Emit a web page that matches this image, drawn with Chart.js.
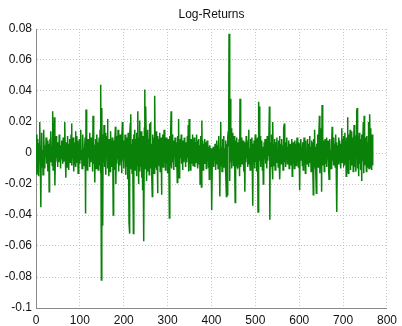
<!DOCTYPE html>
<html>
<head>
<meta charset="utf-8">
<script src="https://cdn.jsdelivr.net/npm/chart.js@4.4.1/dist/chart.umd.min.js"></script>
<style>
  html, body { margin: 0; padding: 0; background: #fff; }
  #wrap { width: 402px; height: 326px; }
</style>
</head>
<body>
<div id="wrap"><canvas id="chart" width="402" height="326"></canvas></div>
<script>
// daily log-returns (one value per trading day)
const logReturns = [
  0.012, -0.014, 0.009, 0.003, -0.008, -0.015, 0.006, 0.011, 0.020, -0.006, -0.035, 0.004, 0.013, -0.009, 0.002, -0.014, 0.008, 0.015, -0.003, -0.010,
  0.005, -0.002, 0.010, -0.007, 0.003, 0.008, -0.012, 0.001, 0.006, -0.025, -0.004, 0.009, -0.006, 0.014, -0.001, 0.004, -0.008, 0.027, -0.011, 0.007,
  0.002, 0.023, -0.021, -0.005, 0.006, 0.011, -0.003, 0.004, -0.009, 0.007, 0.001, -0.006, 0.012, -0.002, 0.005, -0.010, 0.003, 0.008, -0.004, 0.006,
  -0.007, 0.010, 0.002, -0.005, 0.013, 0.020, -0.004, -0.016, 0.007, 0.003, -0.009, 0.011, -0.002, 0.006, -0.011, 0.004, 0.009, -0.006, 0.001, 0.012,
  0.019, -0.008, 0.005, -0.003, 0.010, -0.012, 0.002, 0.007, -0.005, 0.014, -0.009, 0.003, 0.011, -0.006, 0.008, -0.013, 0.004, -0.001, 0.009, -0.007,
  0.006, 0.015, -0.004, 0.002, -0.010, 0.008, 0.012, -0.006, 0.003, -0.008, 0.005, 0.010, -0.039, 0.028, -0.005, 0.007, -0.011, 0.004, 0.009, -0.003,
  0.006, -0.009, 0.013, 0.001, -0.006, 0.010, -0.004, 0.008, -0.012, 0.024, 0.011, -0.007, 0.003, -0.019, 0.005, 0.009, -0.010, 0.002, 0.012, -0.005,
  0.007, -0.011, 0.004, 0.010, -0.008, 0.015, -0.013, 0.044, -0.082, 0.029, -0.020, -0.047, 0.012, -0.006, 0.018, -0.009, 0.005, 0.013, -0.014, 0.008,
  -0.003, 0.011, 0.022, -0.010, 0.006, -0.015, 0.009, 0.002, -0.012, 0.014, -0.005, 0.007, -0.009, 0.010, -0.002, -0.040, 0.008, 0.004, -0.011, 0.006,
  0.017, -0.020, 0.005, -0.007, 0.011, -0.004, 0.015, -0.012, 0.003, 0.009, -0.008, 0.012, -0.006, 0.004, -0.013, 0.010, 0.020, -0.005, 0.007, -0.010,
  0.008, -0.003, 0.012, -0.014, 0.006, 0.010, -0.009, 0.002, -0.017, 0.013, -0.006, -0.045, -0.052, 0.011, 0.019, 0.025, -0.010, 0.006, -0.013, 0.009,
  -0.004, -0.052, 0.012, -0.007, 0.015, -0.011, 0.004, 0.009, -0.015, 0.013, -0.008, 0.027, -0.003, -0.020, 0.010, 0.021, -0.012, 0.005, -0.009, 0.014,
  -0.016, 0.008, -0.024, 0.011, -0.033, -0.057, 0.016, 0.041, -0.010, 0.030, 0.013, -0.018, 0.007, -0.012, 0.015, -0.005, 0.009, -0.014, 0.019, -0.007,
  0.020, -0.010, 0.006, -0.017, -0.028, 0.012, -0.006, 0.010, -0.013, 0.008, 0.037, -0.009, 0.004, 0.014, -0.011, 0.006, -0.026, 0.011, -0.004, 0.009,
  -0.008, 0.013, -0.012, 0.005, 0.010, -0.027, 0.007, -0.003, 0.012, -0.009, 0.004, 0.015, -0.006, 0.008, -0.011, 0.003, 0.010, -0.007, 0.005, -0.013,
  0.009, -0.004, 0.006, -0.042, 0.011, -0.008, 0.014, 0.027, -0.010, 0.005, 0.012, -0.006, 0.003, -0.011, 0.008, -0.002, 0.010, -0.009, 0.004, 0.007,
  -0.005, -0.019, 0.011, 0.002, 0.022, -0.016, 0.006, -0.008, 0.009, -0.003, 0.012, -0.007, 0.004, -0.011, 0.008, 0.001, -0.006, 0.010, -0.004, 0.006,
  -0.009, 0.007, 0.002, -0.006, 0.011, -0.003, 0.018, -0.012, 0.022, -0.005, 0.008, -0.011, 0.004, 0.009, -0.007, 0.003, 0.012, -0.008, 0.005, -0.002,
  0.010, -0.009, 0.004, 0.007, -0.006, 0.012, -0.004, 0.008, -0.010, 0.003, 0.009, -0.007, 0.005, -0.020, 0.011, -0.003, -0.022, 0.021, -0.006, 0.008,
  -0.011, 0.006, 0.002, -0.007, 0.009, -0.004, 0.007, -0.010, 0.003, 0.008, -0.005, 0.006, -0.009, 0.004, -0.017, 0.005, 0.002, -0.006, 0.003, -0.008,
  -0.037, 0.002, -0.006, 0.004, -0.009, 0.001, -0.004, 0.006, -0.011, 0.003, -0.007, 0.008, -0.002, 0.005, -0.010, 0.004, 0.011, -0.006, -0.028, 0.002,
  0.020, -0.008, 0.004, -0.012, 0.009, -0.005, 0.007, 0.011, -0.009, 0.003, -0.006, 0.008, -0.014, -0.028, 0.006, -0.027, 0.010, 0.014, 0.004, 0.077,
  0.012, -0.018, 0.035, -0.006, 0.016, -0.010, 0.009, -0.004, 0.013, -0.008, 0.006, 0.011, -0.012, -0.032, 0.008, -0.005, 0.010, -0.007, 0.004, -0.010,
  0.007, -0.003, 0.009, -0.015, 0.035, -0.009, 0.006, -0.004, 0.010, -0.007, 0.003, 0.008, -0.012, 0.005, -0.002, -0.025, 0.007, -0.006, 0.011, -0.003,
  0.006, -0.009, 0.004, 0.008, 0.015, -0.007, 0.003, -0.011, 0.009, -0.005, 0.002, 0.010, -0.008, -0.034, 0.006, -0.004, 0.008, -0.010, 0.005, 0.012,
  -0.006, 0.009, -0.012, 0.004, 0.010, -0.038, 0.033, -0.008, 0.030, -0.005, 0.011, -0.009, 0.006, -0.003, 0.008, -0.011, 0.004, -0.020, -0.015, 0.007,
  -0.004, 0.009, -0.007, 0.003, 0.006, -0.010, 0.011, -0.005, 0.008, -0.002, 0.005, 0.030, -0.043, 0.007, -0.009, 0.004, 0.012, -0.006, -0.017, 0.020,
  -0.008, 0.006, -0.003, 0.009, -0.011, 0.004, 0.007, -0.006, 0.010, -0.004, 0.002, -0.009, 0.008, -0.005, 0.011, -0.017, 0.003, 0.006, -0.007, 0.009,
  -0.004, 0.005, -0.011, 0.008, 0.016, 0.019, -0.006, 0.003, -0.009, 0.007, -0.002, 0.010, -0.007, 0.004, -0.005, 0.008, -0.010, 0.003, 0.006, -0.008,
  0.005, -0.003, 0.009, -0.015, 0.004, 0.007, -0.006, 0.002, -0.010, 0.008, -0.004, 0.006, -0.008, 0.003, 0.010, -0.005, 0.002, -0.009, 0.007, -0.003,
  -0.024, 0.006, -0.005, 0.009, -0.002, 0.004, -0.008, 0.007, -0.011, 0.003, 0.010, -0.006, 0.005, -0.013, 0.008, -0.004, 0.002, -0.007, 0.009, -0.005,
  0.006, -0.009, 0.003, 0.011, -0.006, 0.004, -0.012, 0.008, -0.003, 0.007, -0.010, -0.027, 0.009, -0.005, 0.015, -0.008, 0.004, -0.011, -0.026, 0.006,
  -0.004, 0.012, -0.009, 0.005, 0.010, 0.024, -0.013, 0.007, -0.006, 0.016, -0.025, 0.031, -0.008, 0.011, -0.005, 0.008, -0.012, 0.004, 0.009, -0.007,
  0.003, 0.010, -0.009, 0.006, -0.004, 0.008, -0.011, -0.017, 0.005, 0.009, -0.006, 0.002, -0.010, 0.007, 0.017, -0.005, 0.004, -0.008, 0.010, -0.003,
  0.006, -0.009, 0.012, -0.004, 0.007, -0.038, 0.005, 0.003, -0.007, 0.010, -0.005, 0.008, -0.002, 0.006, -0.010, 0.004, 0.016, -0.006, 0.009, -0.004,
  0.011, -0.008, -0.007, 0.013, -0.003, 0.008, -0.015, 0.010, -0.005, 0.023, -0.010, -0.013, 0.012, -0.004, 0.009, 0.015, -0.011, 0.006, -0.008, 0.014,
  -0.006, 0.010, -0.012, 0.005, 0.018, -0.009, 0.007, -0.004, -0.012, 0.011, 0.027, 0.029, -0.010, 0.008, -0.015, 0.006, 0.013, -0.007, 0.004, -0.011,
  0.009, -0.018, 0.012, -0.005, 0.008, 0.020, -0.013, 0.024, -0.008, 0.010, -0.006, 0.004, -0.012, 0.011, -0.009, 0.007, -0.004, 0.020, -0.010, 0.006,
  0.025, -0.009, 0.016, -0.006, -0.011, 0.012, -0.008, 0.004
];

const xTicks = [0, 100, 200, 300, 400, 500, 600, 700, 800];
const yTicks = [-0.1, -0.08, -0.06, -0.04, -0.02, 0, 0.02, 0.04, 0.06, 0.08];
const chartTitle = 'Log-Returns';

const FONT = 'Helvetica, Arial, "Liberation Sans", sans-serif';

const points = logReturns.map((v, i) => ({ x: i + 1, y: v }));

const ctx = document.getElementById('chart').getContext('2d');
const chart = new Chart(ctx, {
    type: 'line',
    data: {
        datasets: [{
            label: 'log-returns',
            data: points,
            borderColor: '#0a820a',
            borderWidth: 1.5,
            pointRadius: 0,
            tension: 0,
            fill: false
        }]
    },
    options: {
        responsive: false,
        animation: false,
        events: [],
        layout: {
            padding: { left: 0, right: 11, top: 0, bottom: 0 }
        },
        plugins: {
            legend: { display: false },
            tooltip: { enabled: false },
            title: {
                display: true,
                text: chartTitle,
                fullSize: false,
                color: '#111',
                font: { family: FONT, size: 12, weight: 'normal', lineHeight: 1.2 },
                padding: { top: 7, bottom: 7.6 }
            }
        },
        scales: {
            x: {
                type: 'linear',
                min: 0,
                max: 800,
                afterBuildTicks: s => { s.ticks = xTicks.map(v => ({ value: v })); },
                afterFit: s => { s.height = 18; },
                grid: { color: '#c4c4c4', lineWidth: 1, drawTicks: false },
                border: { display: true, color: '#8a8a8a', width: 1, dash: [1, 2] },
                ticks: {
                    color: '#111',
                    padding: 5,
                    maxRotation: 0,
                    font: { family: FONT, size: 12 }
                }
            },
            y: {
                min: -0.1,
                max: 0.08,
                afterBuildTicks: s => { s.ticks = yTicks.map(v => ({ value: v })); },
                afterFit: s => { s.width = 36; },
                grid: { color: '#c4c4c4', lineWidth: 1, drawTicks: false },
                border: { display: true, color: '#8a8a8a', width: 1, dash: [1, 2] },
                ticks: {
                    color: '#111',
                    padding: 4,
                    font: { family: FONT, size: 12 },
                    callback: v => String(Math.round(v * 100) / 100)
                }
            }
        }
    }
});
</script>
</body>
</html>
